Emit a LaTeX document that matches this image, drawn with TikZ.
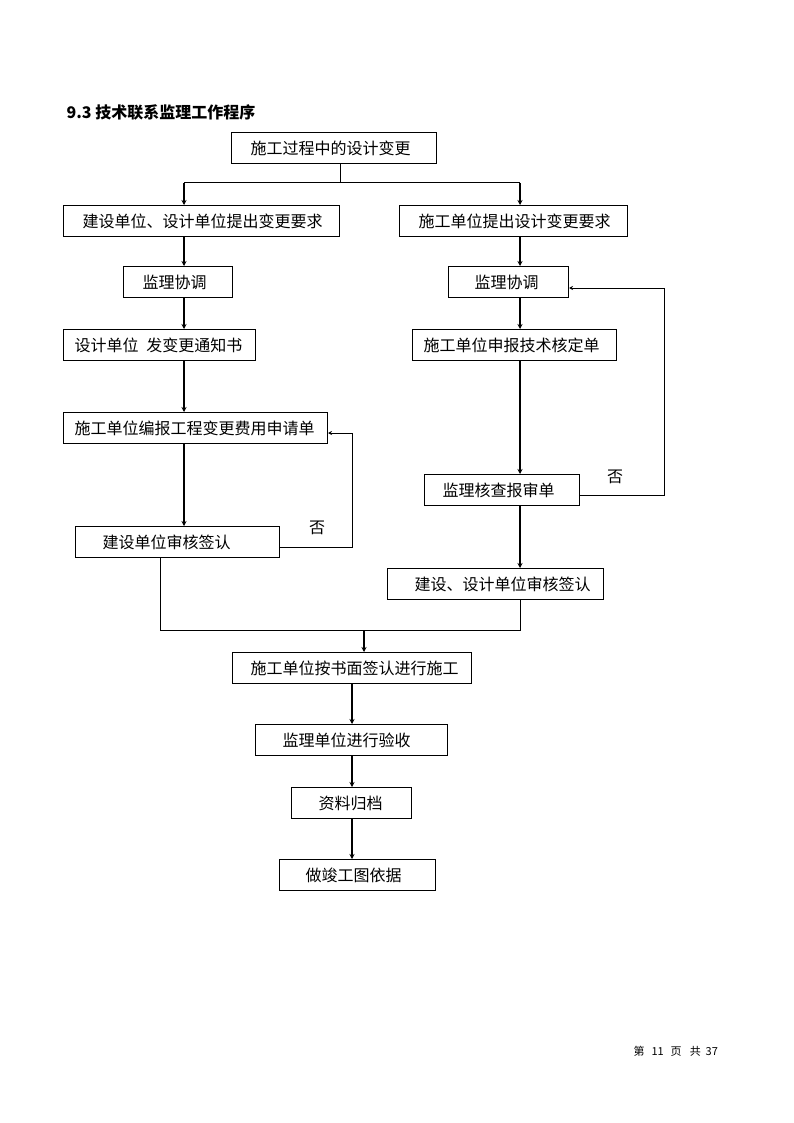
\documentclass[tikz,border=0pt]{standalone}
\usepackage{fontspec}
\newfontfamily\cjk{Noto Sans CJK SC}
\usetikzlibrary{arrows.meta}

\tikzset{
  box/.style={draw, line width=1pt, anchor=north west, align=left,
              inner xsep=0pt, inner ysep=0pt, minimum height=31pt,
              font=\cjk\fontsize{16}{18}\selectfont},
  flow/.style={line width=2pt, ->},
  link/.style={line width=1pt},
  back/.style={line width=1pt, -{Stealth[length=4pt,width=4pt]}},
  plain/.style={font=\cjk\fontsize{16}{18}\selectfont}
}

\begin{document}
\begin{tikzpicture}[x=1pt, y=-1pt, >={Stealth[length=5pt,width=5pt]}]
\useasboundingbox (0,0) rectangle (794,1123);

% Columns
\coordinate (colL) at (184,0);
\coordinate (colR) at (520,0);
\coordinate (colM) at (352,0);
\coordinate (split) at (340,183);
\coordinate (mergeL) at (160,630);
\coordinate (merge) at (364,630);
\coordinate (backL) at (352,433);
\coordinate (backR) at (664,288);

% Title
\node[plain, anchor=west] (title) at (63,112) {\bfseries 9.3 技术联系监理工作程序};

% Boxes
\node[box, text width=205pt] (start)   at (231,132) {\hspace*{19pt}施工过程中的设计变更};
\node[box, text width=276pt] (reqL)    at (63,205)  {\hspace*{19pt}建设单位、设计单位提出变更要求};
\node[box, text width=228pt] (reqR)    at (399,205) {\hspace*{19pt}施工单位提出设计变更要求};
\node[box, text width=109pt] (coordL)  at (123,266) {\hspace*{19pt}监理协调};
\node[box, text width=120pt] (coordR)  at (448,266) {\hspace*{26pt}监理协调};
\node[box, text width=192pt] (noticeL) at (63,329)  {\hspace*{11pt}设计单位\hspace{8pt}发变更通知书};
\node[box, text width=204pt] (techR)   at (412,329) {\hspace*{11pt}施工单位申报技术核定单};
\node[box, text width=264pt] (costL)   at (63,412)  {\hspace*{11pt}施工单位编报工程变更费用申请单};
\node[box, text width=155pt] (checkR)  at (424,474) {\hspace*{18pt}监理核查报审单};
\node[box, text width=204pt] (signL)   at (75,526)  {\hspace*{27pt}建设单位审核签认};
\node[box, text width=216pt] (signR)   at (387,568) {\hspace*{27pt}建设、设计单位审核签认};
\node[box, text width=239pt] (build)   at (232,652) {\hspace*{18pt}施工单位按书面签认进行施工};
\node[box, text width=192pt] (accept)  at (255,724) {\hspace*{27pt}监理单位进行验收};
\node[box, text width=120pt] (archive) at (291,787) {\hspace*{27pt}资料归档};
\node[box, text width=156pt] (asbuilt) at (279,859) {\hspace*{26pt}做竣工图依据};

\node[plain] (noL) at (317,528) {否};
\node[plain] (noR) at (615,477) {否};

% Split
\draw[link] (start.south -| split) -- (split);
\draw[link] (colL |- split) -- (colR |- split);
\draw[flow] (colL |- split) -- (reqL.north -| colL);
\draw[flow] (colR |- split) -- (reqR.north -| colR);

% Left branch
\draw[flow] (reqL.south -| colL) -- (coordL.north -| colL);
\draw[flow] (coordL.south -| colL) -- (noticeL.north -| colL);
\draw[flow] (noticeL.south -| colL) -- (costL.north -| colL);
\draw[flow] (costL.south -| colL) -- (signL.north -| colL);
\draw[back] ([yshift=-5pt]signL.east) -| (backL) -- (costL.east |- backL);

% Right branch
\draw[flow] (reqR.south -| colR) -- (coordR.north -| colR);
\draw[flow] (coordR.south -| colR) -- (techR.north -| colR);
\draw[flow] (techR.south -| colR) -- (checkR.north -| colR);
\draw[flow] (checkR.south -| colR) -- (signR.north -| colR);
\draw[back] ([yshift=-5pt]checkR.east) -| (backR) -- (coordR.east |- backR);

% Merge
\draw[link] (signL.south -| mergeL) -- (mergeL) -- (colR |- merge) -- (signR.south -| colR);
\draw[flow] (merge) -- (build.north -| merge);

% Finish
\draw[flow] (build.south -| colM) -- (accept.north -| colM);
\draw[flow] (accept.south -| colM) -- (archive.north -| colM);
\draw[flow] (archive.south -| colM) -- (asbuilt.north -| colM);

% Footer
\node[anchor=west, font=\cjk\fontsize{11}{13}\selectfont] (page) at (630,1051) {第\hspace{7pt}11\hspace{7pt}页\hspace{8pt}共\hspace{5pt}37};
\end{tikzpicture}
\end{document}
